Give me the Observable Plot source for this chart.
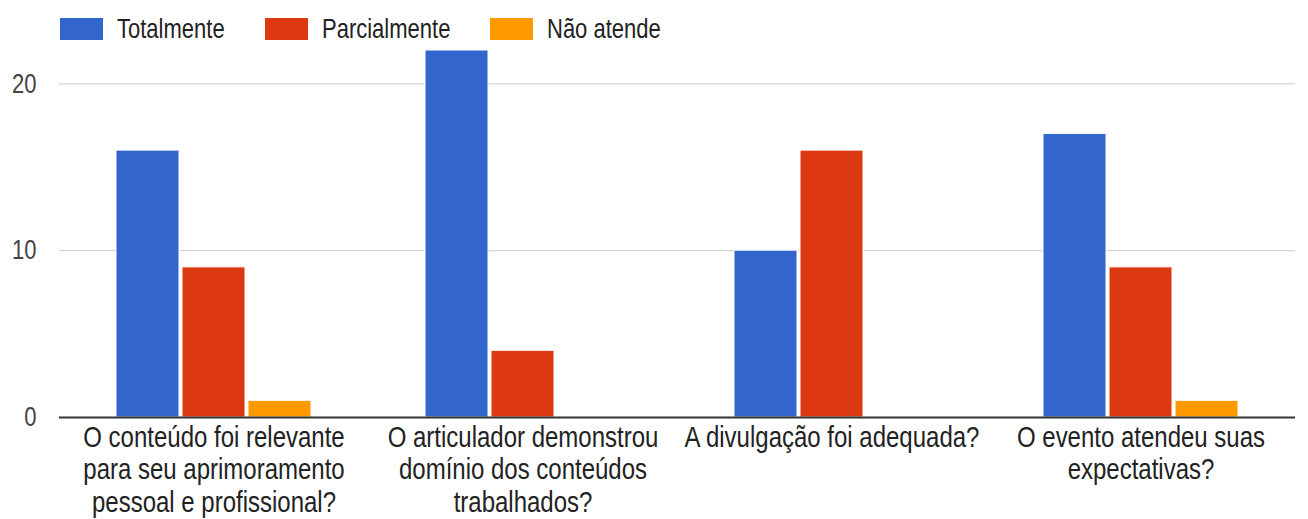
<!DOCTYPE html>
<html>
<head>
<meta charset="utf-8">
<script src="https://cdn.jsdelivr.net/npm/d3@7"></script>
<script src="https://cdn.jsdelivr.net/npm/@observablehq/plot@0.6"></script>
<style>
  html, body { margin: 0; padding: 0; background: #fff; }
  body { width: 1308px; height: 519px; overflow: hidden; font-family: "Liberation Sans", Arial, sans-serif; }
  #legend { height: 50px; position: relative; }
  .item { position: absolute; top: 18px; display: flex; align-items: center; font-size: 22px; color: #222; height: 22px; }
  .sw { width: 43px; height: 22px; margin-right: 14px; }
  .item span { display: inline-block; transform: scaleY(1.25); }
</style>
</head>
<body>
<div id="legend"></div>
<div id="chart"></div>
<script>
const questions = [
  "O conteúdo foi relevante para seu aprimoramento pessoal e profissional?",
  "O articulador demonstrou domínio dos conteúdos trabalhados?",
  "A divulgação foi adequada?",
  "O evento atendeu suas expectativas?"
];
const tickLabels = [
  "O conteúdo foi relevante\npara seu aprimoramento\npessoal e profissional?",
  "O articulador demonstrou\ndomínio dos conteúdos\ntrabalhados?",
  "A divulgação foi adequada?",
  "O evento atendeu suas\nexpectativas?"
];
const series = ["Totalmente", "Parcialmente", "Não atende"];
const colors = ["#3366cc", "#dc3912", "#ff9900"];
const totalmente = [16, 22, 10, 17];
const parcialmente = [9, 4, 16, 9];
const naoAtende = [1, 0, 0, 1];
const yTicks = [0, 10, 20];

const values = [totalmente, parcialmente, naoAtende];
const data = [];
questions.forEach((q, i) => {
  series.forEach((s, j) => data.push({q, s, v: values[j][i]}));
});
const labelOf = new Map(questions.map((q, i) => [q, tickLabels[i]]));

// legend
const legendLefts = [60, 265, 490];
const legend = document.getElementById("legend");
series.forEach((s, i) => {
  const it = document.createElement("div");
  it.className = "item";
  it.style.left = legendLefts[i] + "px";
  it.innerHTML = `<div class="sw" style="background:${colors[i]}"></div><span>${s}</span>`;
  legend.appendChild(it);
});

const font = '"Liberation Sans", Arial, sans-serif';
const chart = Plot.plot({
  width: 1308,
  height: 469,
  marginLeft: 58,
  marginRight: 12,
  marginTop: 0,
  marginBottom: 102,
  style: {fontFamily: font, background: "#fff"},
  fx: {domain: questions, padding: 0},
  x: {domain: series, paddingInner: 0.05, paddingOuter: 0.86, axis: null},
  y: {domain: [0, 22]},
  color: {domain: series, range: colors},
  marks: [
    Plot.ruleY(yTicks.filter(d => d > 0), {stroke: "#cccccc", strokeWidth: 1}),
    Plot.barY(data, {fx: "q", x: "s", y: "v", fill: "s", stroke: "#fff", strokeWidth: 1}),
    Plot.ruleY([0], {stroke: "#333", strokeWidth: 2}),
    Plot.axisY({ticks: yTicks, tickSize: 0, tickPadding: 23, fontSize: 22, fill: "#444", label: null}),
    Plot.axisFx({anchor: "bottom", tickSize: 0, tickPadding: 6, fontSize: 24, fill: "#222", lineHeight: 1.083, label: null, tickFormat: d => labelOf.get(d)})
  ]
});
document.getElementById("chart").appendChild(chart);
// stretch tick-label glyphs vertically, as in the reference
chart.querySelectorAll('g[aria-label="fx-axis tick label"] text, g[aria-label="y-axis tick label"] text').forEach(t => {
  const tr = t.getAttribute("transform") || "";
  t.setAttribute("transform", tr + " scale(1,1.25)");
});
</script>
</body>
</html>
